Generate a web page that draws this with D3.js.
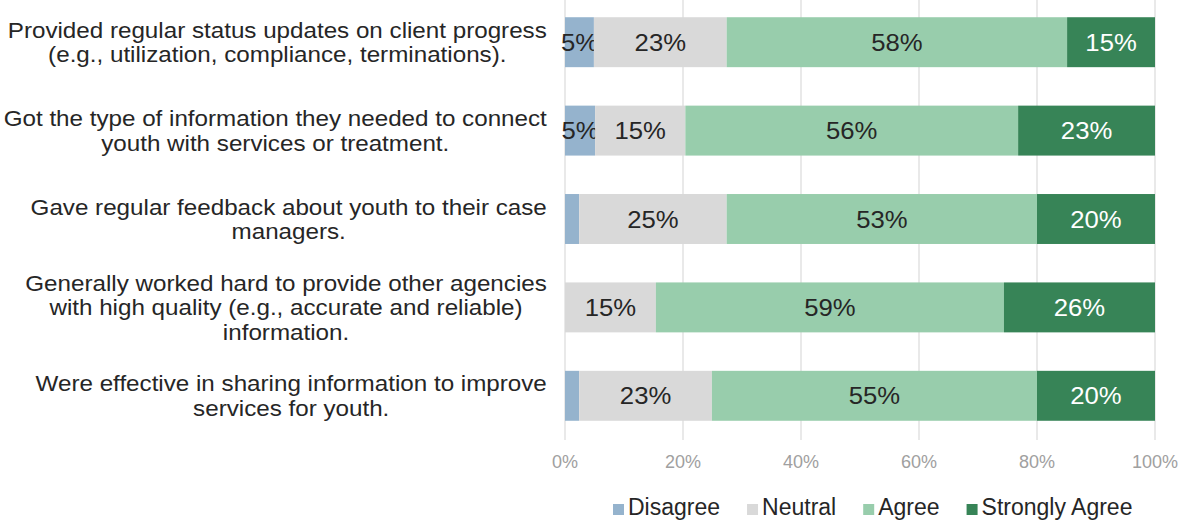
<!DOCTYPE html>
<html>
<head>
<meta charset="utf-8">
<script src="https://cdn.jsdelivr.net/npm/d3@7"></script>
<style>
  body { margin: 0; background: #fff; }
  svg text { font-family: "Liberation Sans", Arial, Helvetica, sans-serif; }
</style>
</head>
<body>
<svg width="1189" height="523"></svg>
<script>
// categories (one label per bar, lines split as in the report)
var categories = [
  ["Provided regular status updates on client progress", "(e.g., utilization, compliance, terminations)."],
  ["Got the type of information they needed to connect", "youth with services or treatment."],
  ["Gave regular feedback about youth to their case", "managers."],
  ["Generally worked hard to provide other agencies", "with high quality (e.g., accurate and reliable)", "information."],
  ["Were effective in sharing information to improve", "services for youth."]
];
var keys = ["Disagree", "Neutral", "Agree", "Strongly Agree"];
var disagree = [4.9, 5.1, 2.4, 0, 2.4];
var neutral  = [22.5, 15.3, 25, 15.4, 22.5];
var agree    = [57.7, 56.4, 52.6, 59, 55.1];
var strongly = [14.9, 23.2, 20, 25.6, 20];
var ticks = [0, 20, 40, 60, 80, 100];
var colors = ["#95b3cd", "#d9d9d9", "#98cdac", "#378457"];

var data = categories.map(function(c, i) {
  return { id: i, "Disagree": disagree[i], "Neutral": neutral[i], "Agree": agree[i], "Strongly Agree": strongly[i] };
});

var svg = d3.select("svg"),
    margin = {left: 565, right: 34, top: -2, bottom: 83},
    width = +svg.attr("width") - margin.left - margin.right,
    height = +svg.attr("height") - margin.top - margin.bottom,
    g = svg.append("g").attr("transform", "translate(" + margin.left + "," + margin.top + ")");

var x = d3.scaleLinear().domain([0, 100]).range([0, width]);
var y = d3.scaleBand().domain(data.map(function(d) { return d.id; })).range([0, height]).paddingInner(0.435).paddingOuter(0.2175);
var z = d3.scaleOrdinal().domain(keys).range(colors);

// gridlines
g.append("g").selectAll("line")
  .data(ticks)
  .enter().append("line")
   .attr("x1", function(d) { return x(d); })
   .attr("x2", function(d) { return x(d); })
   .attr("y1", 2)
   .attr("y2", height)
   .attr("stroke", "#e2e2e2")
   .attr("stroke-width", 1.5);

// x tick labels
g.append("g").selectAll("text")
  .data(ticks)
  .enter().append("text")
   .attr("x", function(d) { return x(d); })
   .attr("y", height + 28)
   .attr("text-anchor", "middle")
   .attr("font-size", 18)
   .attr("fill", "#a0a0a0")
   .text(function(d) { return d + "%"; });

var series = d3.stack().keys(keys)(data);

var layer = g.append("g").selectAll("g")
  .data(series)
  .enter().append("g")
   .attr("fill", function(d) { return z(d.key); });

layer.selectAll("rect")
  .data(function(d) { return d; })
  .enter().append("rect")
   .attr("x", function(d) { return x(d[0]); })
   .attr("y", function(d) { return y(d.data.id); })
   .attr("width", function(d) { return x(d[1]) - x(d[0]); })
   .attr("height", y.bandwidth());

// value labels (slightly widened to match the original typeface)
layer.selectAll("text")
  .data(function(d) { return d.map(function(p) { p.key = d.key; return p; }); })
  .enter().filter(function(d) { return d[1] - d[0] >= 4; })
  .append("text")
   .attr("transform", function(d) {
     return "translate(" + x((d[0] + d[1]) / 2) + "," + (y(d.data.id) + y.bandwidth() / 2) + ") scale(1.07,1)";
   })
   .attr("dy", "0.36em")
   .attr("text-anchor", "middle")
   .attr("font-size", 24)
   .attr("fill", function(d) { return d.key === "Strongly Agree" ? "#ffffff" : "#262626"; })
   .text(function(d) { return Math.round(d[1] - d[0]) + "%"; });

// category labels: block right-aligned, lines centered
var sx = 1.1;
var cat = svg.append("g").attr("font-size", 22).attr("fill", "#262626");
categories.forEach(function(lines, i) {
  var t = cat.append("text").attr("text-anchor", "middle");
  var cy = margin.top + y(i) + y.bandwidth() / 2;
  var lh = 24.5;
  lines.forEach(function(l, j) {
    t.append("tspan")
     .attr("x", 0)
     .attr("y", (j - (lines.length - 1) / 2) * lh)
     .attr("dy", "0.36em")
     .text(l);
  });
  var maxW = 0;
  t.selectAll("tspan").each(function() { maxW = Math.max(maxW, this.getComputedTextLength()); });
  t.attr("transform", "translate(" + (547 - maxW * sx / 2) + "," + cy + ") scale(" + sx + ",1)");
});

// legend
var legend = svg.append("g").attr("font-size", 23).attr("fill", "#262626");
var lx = 613, ly = 515;
keys.forEach(function(k, i) {
  var item = legend.append("g").attr("transform", "translate(" + lx + "," + ly + ")");
  item.append("rect").attr("x", 0).attr("y", -11).attr("width", 11).attr("height", 11).attr("fill", z(k));
  var t = item.append("text").attr("x", 15).text(k);
  lx += 15 + t.node().getComputedTextLength() + 27;
});
</script>
</body>
</html>
